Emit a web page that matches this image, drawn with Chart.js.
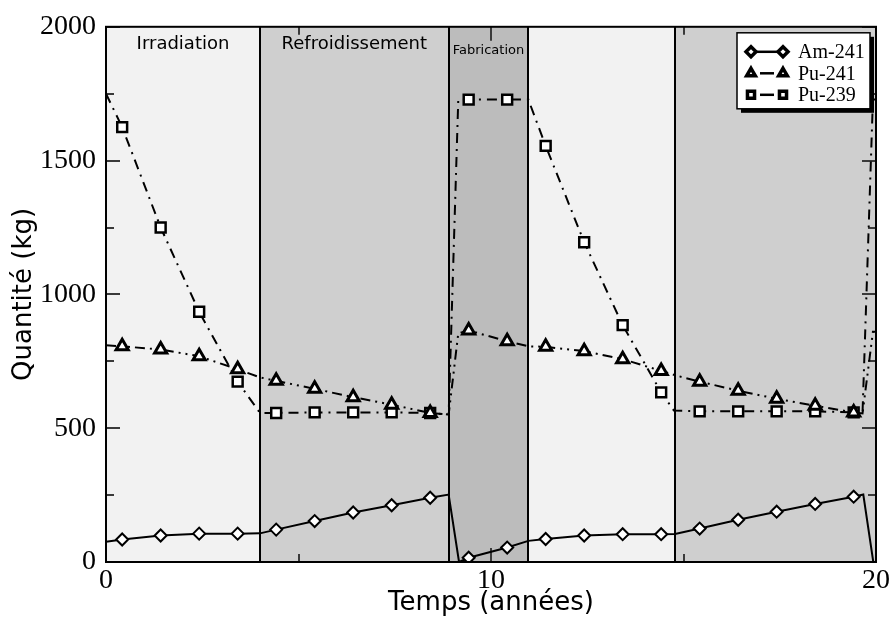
<!DOCTYPE html>
<html>
<head>
<meta charset="utf-8">
<script src="https://cdn.jsdelivr.net/npm/chart.js@4/dist/chart.umd.min.js"></script>
<style>
  html, body { margin: 0; padding: 0; background: #fff; }
</style>
</head>
<body>
<canvas id="chart" width="893" height="619"></canvas>
<script>
// years where the markers sit (one per year, same for every isotope)
const markerYears = [0.42, 1.42, 2.42, 3.42, 4.42, 5.42, 6.42, 7.42, 8.42, 9.42,
                     10.42, 11.42, 12.42, 13.42, 14.42, 15.42, 16.42, 17.42, 18.42, 19.42];

const am241 = [84, 99, 106, 106, 121, 153, 185, 212, 240, 16,
               54, 86, 99, 104, 104, 125, 158, 188, 217, 244];
const pu241 = [806, 794, 769, 720, 677, 647, 616, 588, 557, 865,
               825, 804, 788, 758, 714, 674, 640, 610, 584, 559];
const pu239 = [1625, 1250, 935, 674, 557, 559, 559, 559, 557, 1728,
               1728, 1555, 1195, 885, 634, 563, 563, 563, 563, 559];

// extra points of the curves (phase changes), drawn without marker
const am241KinkYears  = [0, 4, 8.9, 9.17, 10.97, 14.78, 19.67, 19.93];
const am241KinkValues = [76, 107, 252, 0, 79, 105, 252, 0];
const pu241KinkYears  = [0, 4, 8.9, 9.15, 10.97, 14.78, 19.65, 19.92, 20];
const pu241KinkValues = [810, 690, 551, 855, 806, 698, 555, 860, 860];
const pu239KinkYears  = [0, 4, 8.9, 9.15, 10.97, 14.75, 19.65, 19.92, 20];
const pu239KinkValues = [1750, 557, 551, 1728, 1728, 566, 557, 1728, 1728];

// phases of the cycle
const phaseStart = [0, 4, 8.9, 10.97, 14.78];
const phaseEnd   = [4, 8.9, 10.97, 14.78, 20];
const phaseKind  = ['irr', 'ref', 'fab', 'irr', 'ref'];
const phaseLabel = ['Irradiation', 'Refroidissement', 'Fabrication', '', ''];

const yTicks = [0, 500, 1000, 1500, 2000];
const xTicks = [0, 10, 20];

const phaseFill = { irr: '#f2f2f2', ref: '#cfcfcf', fab: '#bcbcbc' };

function buildSeries(values, kinkYears, kinkValues) {
    const pts = markerYears.map((x, i) => ({ x: x, y: values[i], m: true }))
        .concat(kinkYears.map((x, i) => ({ x: x, y: kinkValues[i], m: false })));
    return pts.sort((a, b) => a.x - b.x);
}

const markerOnly = (r) => (ctx) => (ctx.raw && ctx.raw.m ? r : 0);

// inner tick marks: major ones from the scale, minor ones half way
function tickMarks(values) {
    const out = [];
    values.forEach((t, i) => {
        out.push([t, 14]);
        if (i < values.length - 1) out.push([(t + values[i + 1]) / 2, 8]);
    });
    return out;
}

const phasesPlugin = {
    id: 'phases',
    beforeDatasetsDraw(chart) {
        const { ctx, chartArea: a, scales: { x, y } } = chart;
        ctx.save();
        phaseStart.forEach((s, i) => {
            const x0 = x.getPixelForValue(s);
            const x1 = x.getPixelForValue(phaseEnd[i]);
            ctx.fillStyle = phaseFill[phaseKind[i]];
            ctx.fillRect(x0, a.top, x1 - x0, a.bottom - a.top);
        });

        // ticks
        ctx.strokeStyle = '#3a3a3a';
        ctx.lineWidth = 2;
        tickMarks(xTicks).forEach(([v, len]) => {
            const px = Math.round(x.getPixelForValue(v));
            ctx.beginPath();
            ctx.moveTo(px, a.bottom); ctx.lineTo(px, a.bottom - len);
            ctx.moveTo(px, a.top); ctx.lineTo(px, a.top + len);
            ctx.stroke();
        });
        tickMarks(yTicks).forEach(([v, len]) => {
            const py = Math.round(y.getPixelForValue(v));
            ctx.beginPath();
            ctx.moveTo(a.left, py); ctx.lineTo(a.left + len, py);
            ctx.moveTo(a.right, py); ctx.lineTo(a.right - len, py);
            ctx.stroke();
        });

        // phase borders
        ctx.strokeStyle = '#000';
        ctx.lineWidth = 2;
        phaseStart.forEach(s => {
            if (s <= x.min) return;
            const px = Math.round(x.getPixelForValue(s));
            ctx.beginPath();
            ctx.moveTo(px, a.top); ctx.lineTo(px, a.bottom);
            ctx.stroke();
        });

        // phase names
        ctx.fillStyle = '#000';
        ctx.textAlign = 'center';
        ctx.textBaseline = 'middle';
        phaseLabel.forEach((t, i) => {
            if (!t) return;
            const cx = (x.getPixelForValue(phaseStart[i]) + x.getPixelForValue(phaseEnd[i])) / 2;
            const small = phaseKind[i] === 'fab';
            ctx.font = (small ? 13 : 18) + 'px "DejaVu Sans"';
            ctx.fillText(t, cx, a.top + (small ? 24 : 18));
        });
        ctx.restore();
    },
    afterDatasetsDraw(chart) {
        const { ctx, chartArea: a } = chart;
        ctx.save();
        ctx.strokeStyle = '#000';
        ctx.lineWidth = 2;
        ctx.strokeRect(a.left, a.top, a.right - a.left, a.bottom - a.top);
        ctx.restore();
    }
};

function drawMarker(ctx, style, cx, cy, r) {
    ctx.beginPath();
    if (style === 'rectRot') {
        ctx.moveTo(cx - r, cy); ctx.lineTo(cx, cy - r);
        ctx.lineTo(cx + r, cy); ctx.lineTo(cx, cy + r);
    } else if (style === 'triangle') {
        ctx.moveTo(cx, cy - r);
        ctx.lineTo(cx + 0.866 * r, cy + 0.5 * r);
        ctx.lineTo(cx - 0.866 * r, cy + 0.5 * r);
    } else {
        const h = 0.707 * r;
        ctx.rect(cx - h, cy - h, 2 * h, 2 * h);
    }
    ctx.closePath();
    ctx.fill();
    ctx.stroke();
}

const legendPlugin = {
    id: 'boxLegend',
    afterDraw(chart) {
        const { ctx, chartArea: a } = chart;
        const bx = a.right - 139, by = a.top + 6, bw = 133, bh = 76;
        ctx.save();
        ctx.fillStyle = '#000';
        ctx.fillRect(bx + 4, by + 4, bw, bh);
        ctx.fillStyle = '#fff';
        ctx.fillRect(bx, by, bw, bh);
        ctx.strokeStyle = '#000';
        ctx.lineWidth = 1.5;
        ctx.strokeRect(bx, by, bw, bh);

        chart.data.datasets.forEach((ds, i) => {
            const cy = by + 19 + i * 21.5;
            const x0 = bx + 14, x1 = bx + 46;
            ctx.strokeStyle = '#000';
            ctx.lineWidth = 2.5;
            ctx.setLineDash([]);
            ctx.beginPath();
            if (ds.borderDash && ds.borderDash.length) {
                ctx.moveTo(x0 + 9, cy); ctx.lineTo(x1 - 9, cy);
            } else {
                ctx.moveTo(x0, cy); ctx.lineTo(x1, cy);
            }
            ctx.stroke();
            ctx.fillStyle = '#fff';
            ctx.lineWidth = 3.5;
            drawMarker(ctx, ds.pointStyle, x0, cy, 5);
            drawMarker(ctx, ds.pointStyle, x1, cy, 5);
            ctx.fillStyle = '#000';
            ctx.font = '20px "Liberation Serif"';
            ctx.textAlign = 'left';
            ctx.textBaseline = 'middle';
            ctx.fillText(ds.label, bx + 61, cy + 1);
        });
        ctx.restore();
    }
};

const tickFont = { family: '"Liberation Serif", serif', size: 28 };
const titleFont = { family: '"DejaVu Sans", sans-serif', size: 26 };

new Chart(document.getElementById('chart'), {
    type: 'line',
    data: {
        datasets: [{
            label: 'Am-241',
            data: buildSeries(am241, am241KinkYears, am241KinkValues),
            borderColor: '#000',
            borderWidth: 2,
            pointStyle: 'rectRot',
            pointRadius: markerOnly(6),
            pointBorderWidth: 2,
            pointBackgroundColor: '#fff',
            pointBorderColor: '#000'
        }, {
            label: 'Pu-241',
            data: buildSeries(pu241, pu241KinkYears, pu241KinkValues),
            borderColor: '#000',
            borderWidth: 2,
            borderDash: [10, 5, 2, 5, 2, 5],
            pointStyle: 'triangle',
            pointRadius: markerOnly(7),
            pointBorderWidth: 3,
            pointBackgroundColor: '#fff',
            pointBorderColor: '#000'
        }, {
            label: 'Pu-239',
            data: buildSeries(pu239, pu239KinkYears, pu239KinkValues),
            borderColor: '#000',
            borderWidth: 2,
            borderDash: [10, 6, 2, 6],
            pointStyle: 'rect',
            pointRadius: markerOnly(7),
            pointBorderWidth: 2.5,
            pointBackgroundColor: '#fff',
            pointBorderColor: '#000'
        }]
    },
    options: {
        responsive: false,
        devicePixelRatio: 1,
        animation: false,
        layout: { padding: { top: 22, right: 17, left: 0, bottom: 0 } },
        elements: { line: { tension: 0 } },
        plugins: {
            legend: { display: false },
            tooltip: { enabled: false }
        },
        scales: {
            x: {
                type: 'linear',
                min: 0, max: 20,
                afterBuildTicks: (s) => { s.ticks = xTicks.map(v => ({ value: v })); },
                afterFit: (s) => { s.height = 57; },
                grid: { display: false, drawTicks: false },
                border: { display: false },
                ticks: { font: tickFont, color: '#000', padding: 2, maxRotation: 0, callback: (v) => String(v) },
                title: { display: true, text: 'Temps (années)', font: titleFont, color: '#000', padding: { top: 0, bottom: 0 } }
            },
            y: {
                min: 0, max: 2000,
                afterBuildTicks: (s) => { s.ticks = yTicks.map(v => ({ value: v })); },
                afterFit: (s) => { s.width = 106; },
                grid: { display: false, drawTicks: false },
                border: { display: false },
                ticks: { font: tickFont, color: '#000', padding: 10, callback: (v) => String(v) },
                title: { display: true, text: 'Quantité (kg)', font: titleFont, color: '#000', padding: { top: 9 } }
            }
        }
    },
    plugins: [phasesPlugin, legendPlugin]
});
</script>
</body>
</html>
